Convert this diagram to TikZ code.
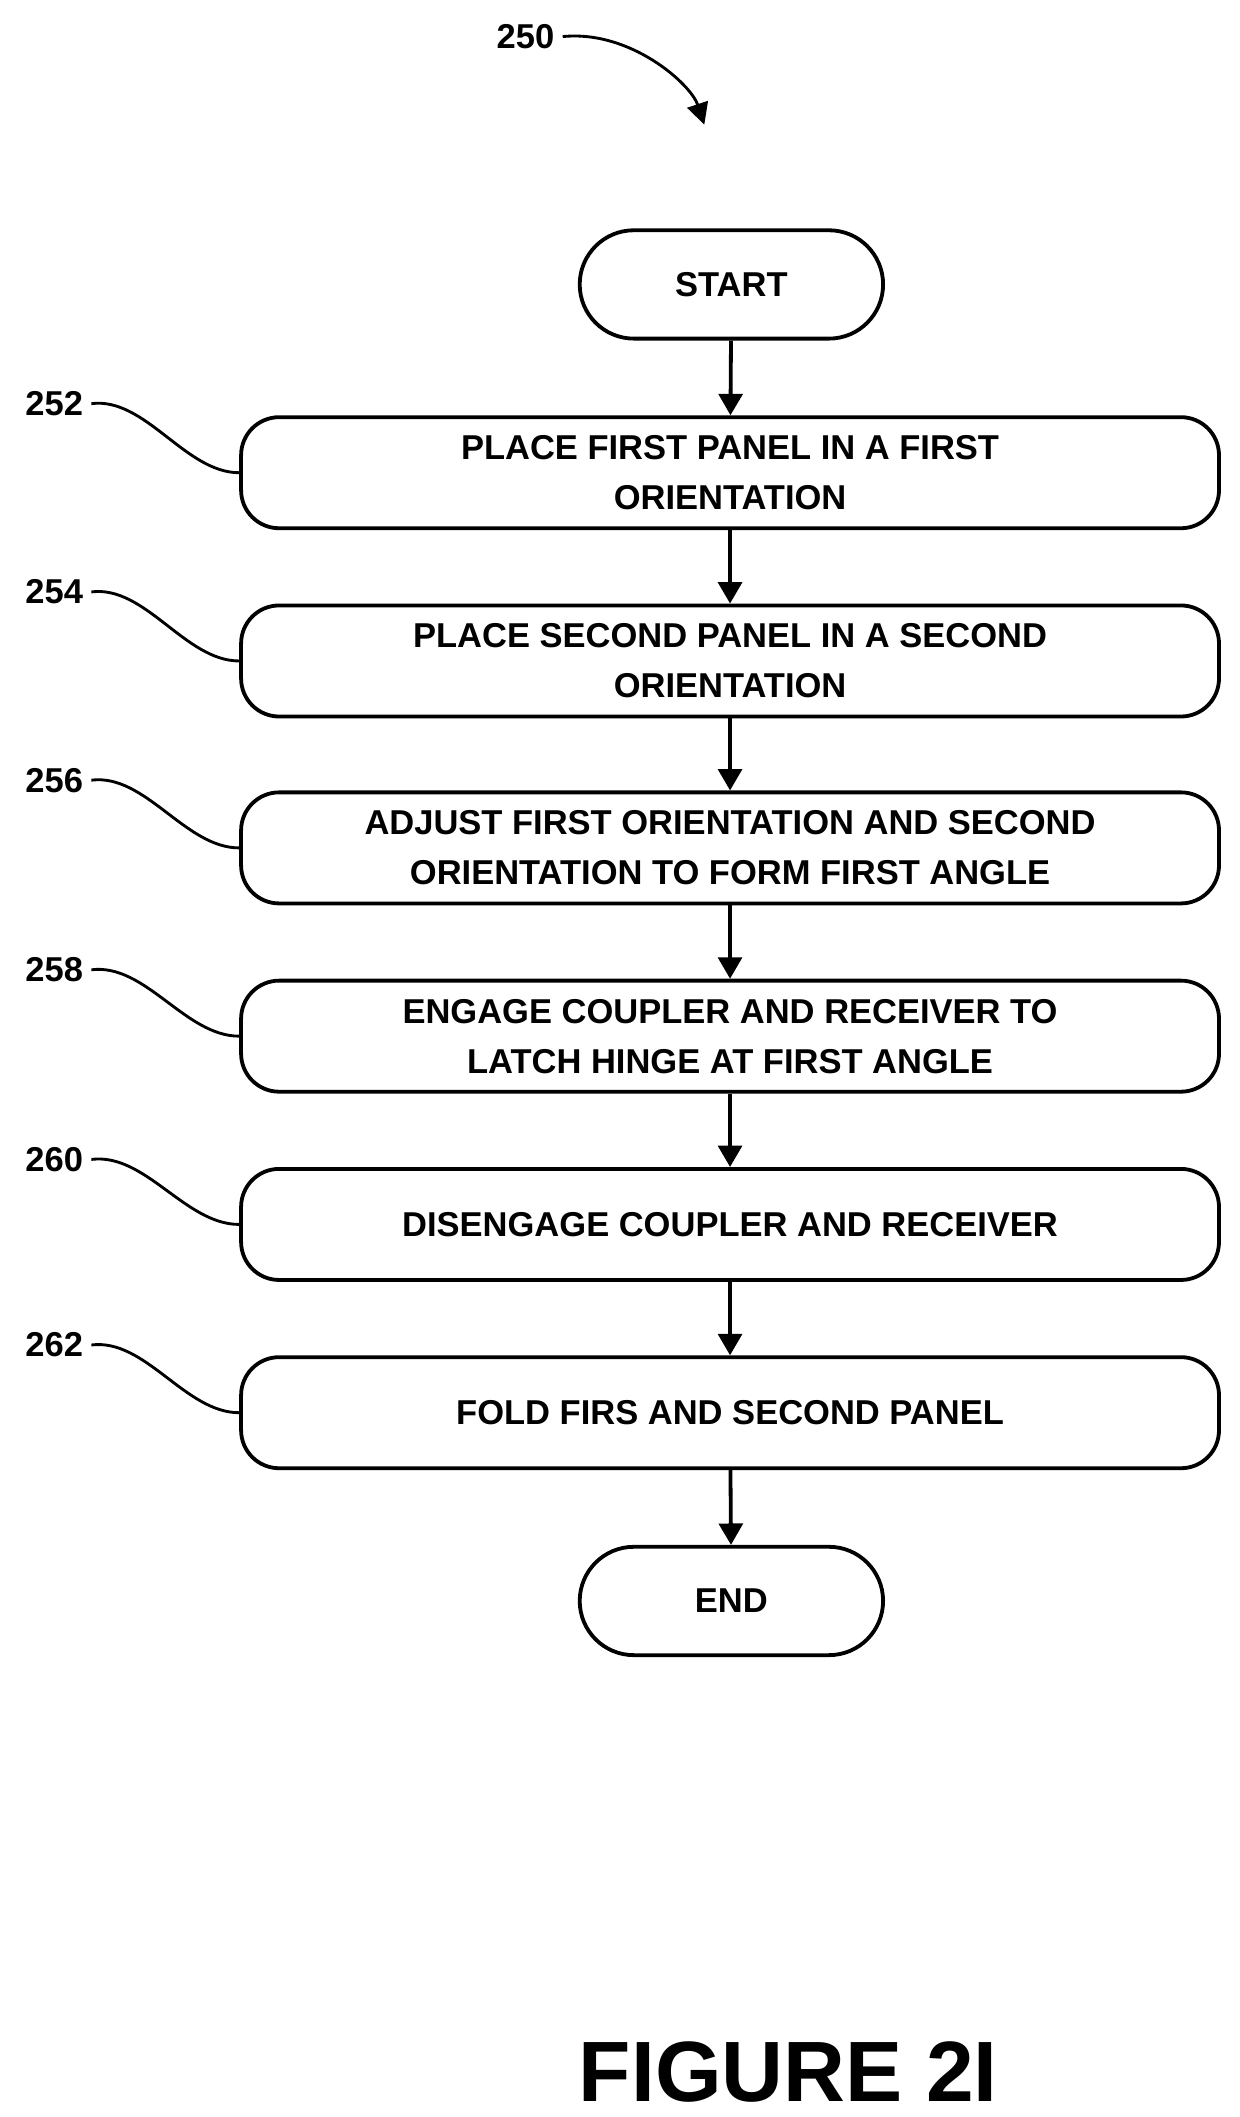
\documentclass[tikz,border=0pt]{standalone}
\usepackage{fontspec}
\setmainfont{Liberation Sans}
\usetikzlibrary{arrows.meta}
\begin{document}
\begin{tikzpicture}[x=0.02cm,y=-0.02cm,
  box/.style={draw,line width=1.6pt,rounded corners=16pt,minimum width=722*0.02cm,minimum height=82*0.02cm,align=center,font=\bfseries\fontsize{14.5}{21}\selectfont},
  term/.style={draw,line width=1.6pt,rounded corners=40*0.02cm,minimum width=224*0.02cm,minimum height=80*0.02cm,font=\bfseries\fontsize{14.5}{17}\selectfont},
  arr/.style={line width=1.6pt,-{Triangle[length=9pt,width=10pt]}},
  lab/.style={font=\bfseries\fontsize{14.5}{17}\selectfont},
  lead/.style={line width=1.2pt}]
\useasboundingbox (0,0) rectangle (915,1563);
\node[term] (s) at (540,210) {START};
\node[box] (b1) at (539,349) {PLACE FIRST PANEL IN A FIRST\\ORIENTATION};
\node[box] (b2) at (539,488) {PLACE SECOND PANEL IN A SECOND\\ORIENTATION};
\node[box] (b3) at (539,626) {ADJUST FIRST ORIENTATION AND SECOND\\ORIENTATION TO FORM FIRST ANGLE};
\node[box] (b4) at (539,765) {ENGAGE COUPLER AND RECEIVER TO\\LATCH HINGE AT FIRST ANGLE};
\node[box] (b5) at (539,904) {DISENGAGE COUPLER AND RECEIVER};
\node[box] (b6) at (539,1043) {FOLD FIRS AND SECOND PANEL};
\node[term] (e) at (540,1182) {END};
\draw[arr] (s) -- (b1);
\draw[arr] (b1) -- (b2);
\draw[arr] (b2) -- (b3);
\draw[arr] (b3) -- (b4);
\draw[arr] (b4) -- (b5);
\draw[arr] (b5) -- (b6);
\draw[arr] (b6) -- (e);
\foreach \n/\b/\y in {252/b1/298,254/b2/437,256/b3/576,258/b4/716,260/b5/856,262/b6/993}{
  \node[lab] (l\n) at (40,\y) {\n};
  \draw[lead] (l\n.east) .. controls ++(40,-5) and ++(-40,0) .. (\b.west);
}
\node[lab] (l250) at (388,27) {250};
\coordinate (t250) at (520,92);
\draw[lead,-{Triangle[length=9pt,width=9pt]}] (l250.east) .. controls ++(50,-5) and ++(-10,-30) .. (t250);
\node[font=\bfseries\fontsize{36}{40}\selectfont] (fig) at (582,1530) {FIGURE 2I};
\end{tikzpicture}
\end{document}
